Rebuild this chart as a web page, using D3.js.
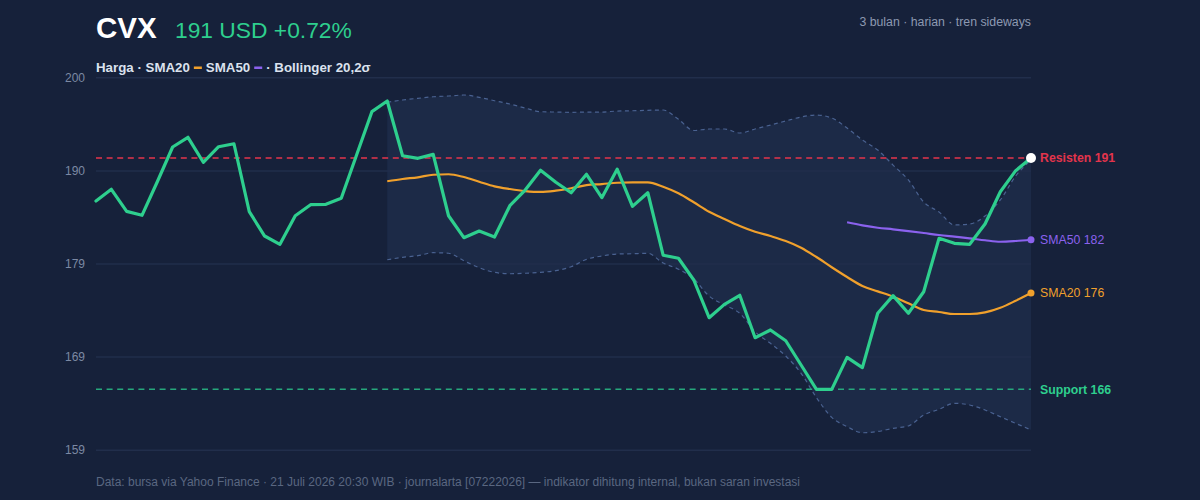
<!DOCTYPE html>
<html><head><meta charset="utf-8">
<script src="https://cdn.jsdelivr.net/npm/d3@7"></script>
<style>
html,body{margin:0;padding:0;background:#16213a;}
svg{display:block;font-family:"Liberation Sans",Arial,Helvetica,sans-serif;}
</style>
</head><body>
<svg id="chart" width="1200" height="500"></svg>
<script>
// ---- data ----
const ticker = "CVX";
const priceLabel = "191 USD +0.72%";
const subtitle = "3 bulan · harian · tren sideways";
const footer = "Data: bursa via Yahoo Finance · 21 Juli 2026 20:30 WIB · journalarta [07222026] — indikator dihitung internal, bukan saran investasi";

const price = [186.18,187.45,185.06,184.63,188.27,192.04,193.09,190.38,192.07,192.39,
185.02,182.38,181.48,184.58,185.78,185.82,186.47,191.17,195.87,197.03,
191.09,190.81,191.24,184.58,182.20,182.92,182.27,185.67,187.37,189.51,
188.21,187.08,189.08,186.54,189.63,185.60,187.08,180.30,179.97,177.61,
173.52,174.97,175.95,171.35,172.19,171.02,168.39,165.75,165.75,169.22,
168.10,174.00,175.91,174.00,176.34,182.13,181.59,181.48,183.68,187.19,
189.47,190.84];

const sma20Start = 19;
const sma20 = [188.32,188.57,188.75,189.03,189.08,188.78,188.27,187.77,187.48,187.26,
187.16,187.30,187.56,187.91,188.02,188.16,188.21,188.21,187.73,187.01,
186.04,185.02,184.23,183.47,182.85,182.38,181.84,181.11,180.10,178.99,
177.93,176.96,176.38,175.80,175.08,174.35,174.14,173.92,173.92,174.10,
174.60,175.36,176.20];

const sma50Start = 49;
const sma50 = [183.87,183.54,183.28,183.11,182.92,182.71,182.49,182.31,182.13,181.92,181.76,181.84,181.98];

const bbStart = 19;
const bbUpper = [196.89,197.14,197.32,197.49,197.57,197.68,197.43,197.06,196.70,196.27,
195.87,195.83,195.80,195.83,195.83,195.94,195.97,196.02,196.05,195.04,
193.83,193.99,193.99,193.56,193.99,194.42,194.86,195.29,195.51,195.18,
194.10,192.80,191.71,190.08,188.46,186.07,184.99,183.58,183.68,184.55,
186.29,188.89,190.63];
const bbLower = [179.81,180.07,180.25,180.57,180.51,179.70,178.94,178.44,178.29,178.34,
178.44,178.62,179.05,179.85,180.21,180.43,180.46,180.51,179.45,178.78,
177.72,175.87,174.90,174.00,172.00,170.74,169.36,167.49,164.86,162.71,
161.70,161.04,161.17,161.52,161.77,162.96,163.58,164.23,164.05,163.51,
162.78,162.06,161.34];

const resistance = 190.84;
const support = 165.75;
const yDomain = [159.2, 199.6];
const yTickLabels = ["159","169","179","190","200"];

// ---- styles ----
const C = {
  bg:"#16213a", band:"#1c2a47", grid:"#212e4b", axisText:"#7c89a3",
  price:"#2ecf8e", sma20:"#f0a02c", sma50:"#8b62ee", res:"#e3344c", sup:"#26a87c",
  bbLine:"#4a6291", title:"#ffffff", legend:"#dbe2ee", sub:"#8d99b1", foot:"#5a6781"
};

const svg = d3.select("#chart");
svg.append("rect").attr("width",1200).attr("height",500).attr("fill",C.bg);

const x = d3.scaleLinear().domain([0, price.length-1]).range([96, 1031]);
const y = d3.scaleLinear().domain(yDomain).range([449.7, 77.3]);

const pts = (arr, start) => arr.map((v,i)=>({i:i+start, v}));
const bandData = bbUpper.map((u,i)=>({i:i+bbStart, u, l:bbLower[i]}));

// band fill
svg.append("path").datum(bandData)
  .attr("d", d3.area().x(d=>x(d.i)).y0(d=>y(d.l)).y1(d=>y(d.u)).curve(d3.curveMonotoneX))
  .attr("fill", C.band);

// grid + y axis
const tickVals = yTickLabels.map((_,k)=> yDomain[0] + k*(yDomain[1]-yDomain[0])/(yTickLabels.length-1));
const gy = svg.append("g").attr("transform","translate(96,0)")
  .call(d3.axisLeft(y).tickValues(tickVals).tickFormat((d,k)=>yTickLabels[k]).tickSize(-935).tickPadding(11));
gy.select(".domain").remove();
gy.selectAll(".tick line").attr("stroke", C.grid).attr("stroke-width",1.5);
gy.selectAll(".tick text").attr("fill", C.axisText).attr("font-size",12)
  .attr("font-family","'Liberation Sans',Arial,sans-serif");

// bollinger dashed lines
const lineU = d3.line().x(d=>x(d.i)).y(d=>y(d.u)).curve(d3.curveMonotoneX);
const lineL = d3.line().x(d=>x(d.i)).y(d=>y(d.l)).curve(d3.curveMonotoneX);
[lineU,lineL].forEach(g=>{
  svg.append("path").datum(bandData).attr("d", g).attr("fill","none")
    .attr("stroke", C.bbLine).attr("stroke-width",1.2).attr("stroke-dasharray","4 3.5");
});

// resistance / support
svg.append("line").attr("x1",96).attr("x2",1031).attr("y1",y(resistance)).attr("y2",y(resistance))
  .attr("stroke",C.res).attr("stroke-width",1.6).attr("stroke-dasharray","6 4.6");
svg.append("line").attr("x1",96).attr("x2",1031).attr("y1",y(support)).attr("y2",y(support))
  .attr("stroke",C.sup).attr("stroke-width",1.6).attr("stroke-dasharray","6 4.6");

// SMA50
const s50 = pts(sma50, sma50Start);
svg.append("path").datum(s50).attr("d", d3.line().x(d=>x(d.i)).y(d=>y(d.v)).curve(d3.curveMonotoneX)).attr("fill","none")
  .attr("stroke",C.sma50).attr("stroke-width",2.2);
// SMA20
const s20 = pts(sma20, sma20Start);
svg.append("path").datum(s20).attr("d", d3.line().x(d=>x(d.i)).y(d=>y(d.v)).curve(d3.curveMonotoneX)).attr("fill","none")
  .attr("stroke",C.sma20).attr("stroke-width",2.2);
// price
const pp = pts(price, 0);
svg.append("path").datum(pp).attr("d", d3.line().x(d=>x(d.i)).y(d=>y(d.v))).attr("fill","none")
  .attr("stroke",C.price).attr("stroke-width",3.2).attr("stroke-linejoin","round").attr("stroke-linecap","round");

// end dots
const lastI = price.length-1;
svg.append("circle").attr("cx",x(lastI)).attr("cy",y(sma50[sma50.length-1])).attr("r",3.5).attr("fill",C.sma50);
svg.append("circle").attr("cx",x(lastI)).attr("cy",y(sma20[sma20.length-1])).attr("r",3.5).attr("fill",C.sma20);
svg.append("circle").attr("cx",x(lastI)).attr("cy",y(price[lastI])).attr("r",5).attr("fill","#ffffff");

// right labels
const rl = (txt, val, col, bold) => svg.append("text").attr("x",1040).attr("y",y(val)).attr("dy","0.35em")
  .attr("fill",col).attr("font-size",12.3).attr("font-weight",bold?"bold":"normal").text(txt);
rl("Resisten " + Math.round(resistance), resistance, C.res, true);
rl("SMA50 " + Math.round(sma50[sma50.length-1]), sma50[sma50.length-1], C.sma50, false);
rl("SMA20 " + Math.round(sma20[sma20.length-1]), sma20[sma20.length-1], C.sma20, false);
rl("Support " + Math.round(support), support, C.price, true);

// title
svg.append("text").attr("x",96).attr("y",38).attr("fill",C.title).attr("font-size",29.5).attr("font-weight","bold").text(ticker);
svg.append("text").attr("x",175).attr("y",38).attr("fill",C.price).attr("font-size",22.8).text(priceLabel);
svg.append("text").attr("x",1031).attr("y",26).attr("text-anchor","end").attr("fill",C.sub).attr("font-size",12.3).text(subtitle);

// legend
const leg = svg.append("g").attr("font-size",13.3).attr("font-weight","bold").attr("fill",C.legend);
let lx = 96; const ly = 72;
const addT = (t)=>{ const n = leg.append("text").attr("x",lx).attr("y",ly).text(t); lx += n.node().getComputedTextLength(); };
const addS = (col)=>{ leg.append("rect").attr("x",lx+4).attr("y",ly-5.5).attr("width",8).attr("height",2.5).attr("fill",col); lx += 16; };
addT("Harga · SMA20"); addS(C.sma20); addT("SMA50"); addS(C.sma50); addT("· Bollinger 20,2σ");

// footer
svg.append("text").attr("x",96).attr("y",486).attr("fill",C.foot).attr("font-size",12).text(footer);
</script>
</body></html>
